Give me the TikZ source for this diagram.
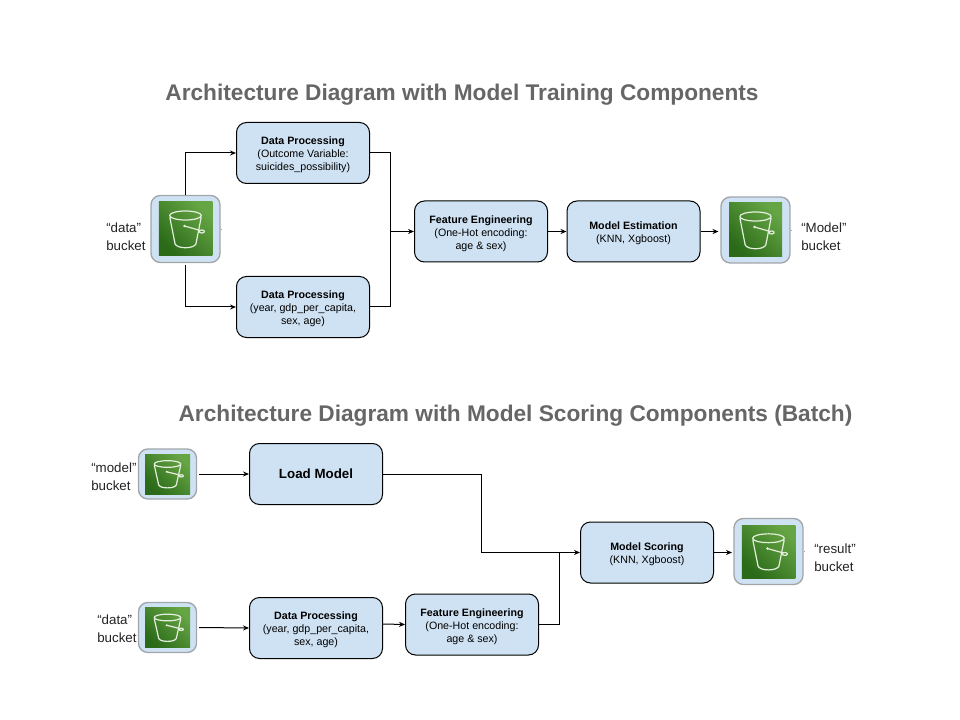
\documentclass[tikz,border=0pt]{standalone}
\usepackage{fontspec}
\usetikzlibrary{arrows.meta}
\setmainfont{Liberation Sans}
\definecolor{boxblue}{HTML}{CFE2F3}
\definecolor{framegray}{HTML}{A2A6AA}
\definecolor{titlegray}{HTML}{666666}
\definecolor{sidetext}{HTML}{222222}
\definecolor{greenlow}{HTML}{2A6A18}
\definecolor{greenhigh}{HTML}{66A544}
\definecolor{iconline}{HTML}{E4EEDD}
\newcommand{\boxhead}[1]{\rule{0pt}{9pt}\textbf{#1}}
\tikzset{
  procbox/.style={draw=black,fill=boxblue,line width=0.75pt,rounded corners=7.5pt,
    minimum width=99.75pt,minimum height=45.75pt,inner sep=0pt,align=center,
    font=\fontsize{8}{9.75}\selectfont},
  bucketframe/.style={draw=framegray,fill=boxblue,line width=1pt,rounded corners=7pt,inner sep=0pt},
  sidelabel/.style={anchor=west,align=left,inner sep=0pt,text=sidetext,
    font=\fontsize{10}{13.5}\selectfont},
  titlelabel/.style={inner sep=0pt,text=titlegray,font=\fontsize{17}{20}\selectfont\bfseries},
  link/.style={draw=black,line width=0.75pt},
  linkarrow/.style={link,-{Stealth[length=4.5pt,width=3.8pt]}},
  bucketicon/.pic={
    \shade[bottom color=greenlow,top color=greenhigh,shading angle=-45] (-27,-27) rectangle (27,27);
    \draw[iconline,line width=0.9pt,line cap=round,line join=round]
      (0,-13.5) ellipse (16 and 4.5)
      (-15.8,-11.5) -- (-10.5,15) .. controls (-8,20) and (8,20) .. (10.5,15) -- (15.8,-11.5)
      (-1,-3) -- (15,1.5)
      (16.5,2.5) ellipse (2.6 and 1.5);
    \fill[iconline] (-1,-3) circle (1.4);
  }
}
\begin{document}
\begin{tikzpicture}[x=0.75pt,y=-0.75pt]
  \useasboundingbox (0,0) rectangle (960,720);
  \node[titlelabel] (titletrain) at (462,95) {Architecture Diagram with Model Training Components};
  \node[titlelabel] (titlescore) at (515.5,416) {Architecture Diagram with Model Scoring Components (Batch)};

  % buckets: name/center/frame size/green size
  \foreach \bname/\xc/\yc/\bw/\bh/\gw/\gh in {
      bktdata/185.5/229/69/67/53.5/54,
      bktmodel/755.5/230/69/66/53/54,
      bktload/167.5/474/58/50/45/40,
      bktinput/167.5/627.5/58/50/45/40,
      bktresult/768.5/551.5/69/66/53.5/53} {
    \node[bucketframe,minimum width=\bw*0.75pt,minimum height=\bh*0.75pt] (\bname) at (\xc,\yc) {};
    \pic[xscale=\gw/54,yscale=\gh/54] at (\xc,\yc) {bucketicon};
  }

  \node[sidelabel] (lbldata) at (106,236.5) {“data”\\bucket};
  \node[sidelabel] (lblmodel) at (801,236.5) {“Model”\\bucket};
  \node[sidelabel] (lblload) at (91,477) {“model”\\bucket};
  \node[sidelabel] (lblinput) at (97,629) {“data”\\bucket};
  \node[sidelabel] (lblresult) at (814,558) {“result”\\bucket};

  % training row
  \node[procbox] (dptop) at (303,153) {\boxhead{Data Processing}\\(Outcome Variable:\\suicides\_possibility)};
  \node[procbox] (dpbot) at (303,307) {\boxhead{Data Processing}\\(year, gdp\_per\_capita,\\sex, age)};
  \node[procbox] (fetrain) at (481,231.5) {\boxhead{Feature Engineering}\\(One-Hot encoding:\\age \& sex)};
  \node[procbox] (estim) at (633.5,231.5) {\boxhead{Model Estimation}\\(KNN, Xgboost)};
  \coordinate (mergetrain) at (390.5,231.5);

  \draw[linkarrow] (bktdata.north) |- (dptop.west);
  \draw[linkarrow] (bktdata.south) ++(0,2) |- (dpbot.west);
  \draw[link] (dptop.east) -| (mergetrain) |- (dpbot.east);
  \draw[linkarrow] (mergetrain) -- (fetrain.west);
  \draw[linkarrow] (fetrain.east) -- (estim.west);
  \draw[linkarrow] (estim.east) -- ++(18,0);

  % scoring row
  \node[procbox,font=\fontsize{10}{12}\selectfont] (loadm) at (316,474) {\textbf{Load Model}};
  \node[procbox] (dpscore) at (316,628) {\boxhead{Data Processing}\\(year, gdp\_per\_capita,\\sex, age)};
  \node[procbox] (fescore) at (472,624.5) {\boxhead{Feature Engineering}\\(One-Hot encoding:\\age \& sex)};
  \node[procbox] (scoring) at (647,552.5) {\boxhead{Model Scoring}\\(KNN, Xgboost)};
  \coordinate (turnload) at (481.5,552.5);
  \coordinate (mergescore) at (559.5,552.5);

  \draw[linkarrow] (bktload.east) ++(2,0) -- (loadm.west);
  \draw[linkarrow] (bktinput.east) ++(2,0) -- (dpscore.west);
  \draw[linkarrow] (dpscore.east) ++(0,-4) -- (fescore.west);
  \draw[link] (loadm.east) -| (turnload);
  \draw[linkarrow] (turnload) -- (scoring.west);
  \draw[link] (fescore.east) -| (mergescore);
  \draw[linkarrow] (scoring.east) -- ++(18,0);

  % tiny stubs beside the bucket frames
  \draw[draw=framegray] (bktdata.east) -- ++(1.5,0);
  \draw[draw=framegray] (bktmodel.east) -- ++(1.5,0);
  \draw[draw=framegray] (bktresult.east) -- ++(1.5,0);
\end{tikzpicture}
\end{document}
